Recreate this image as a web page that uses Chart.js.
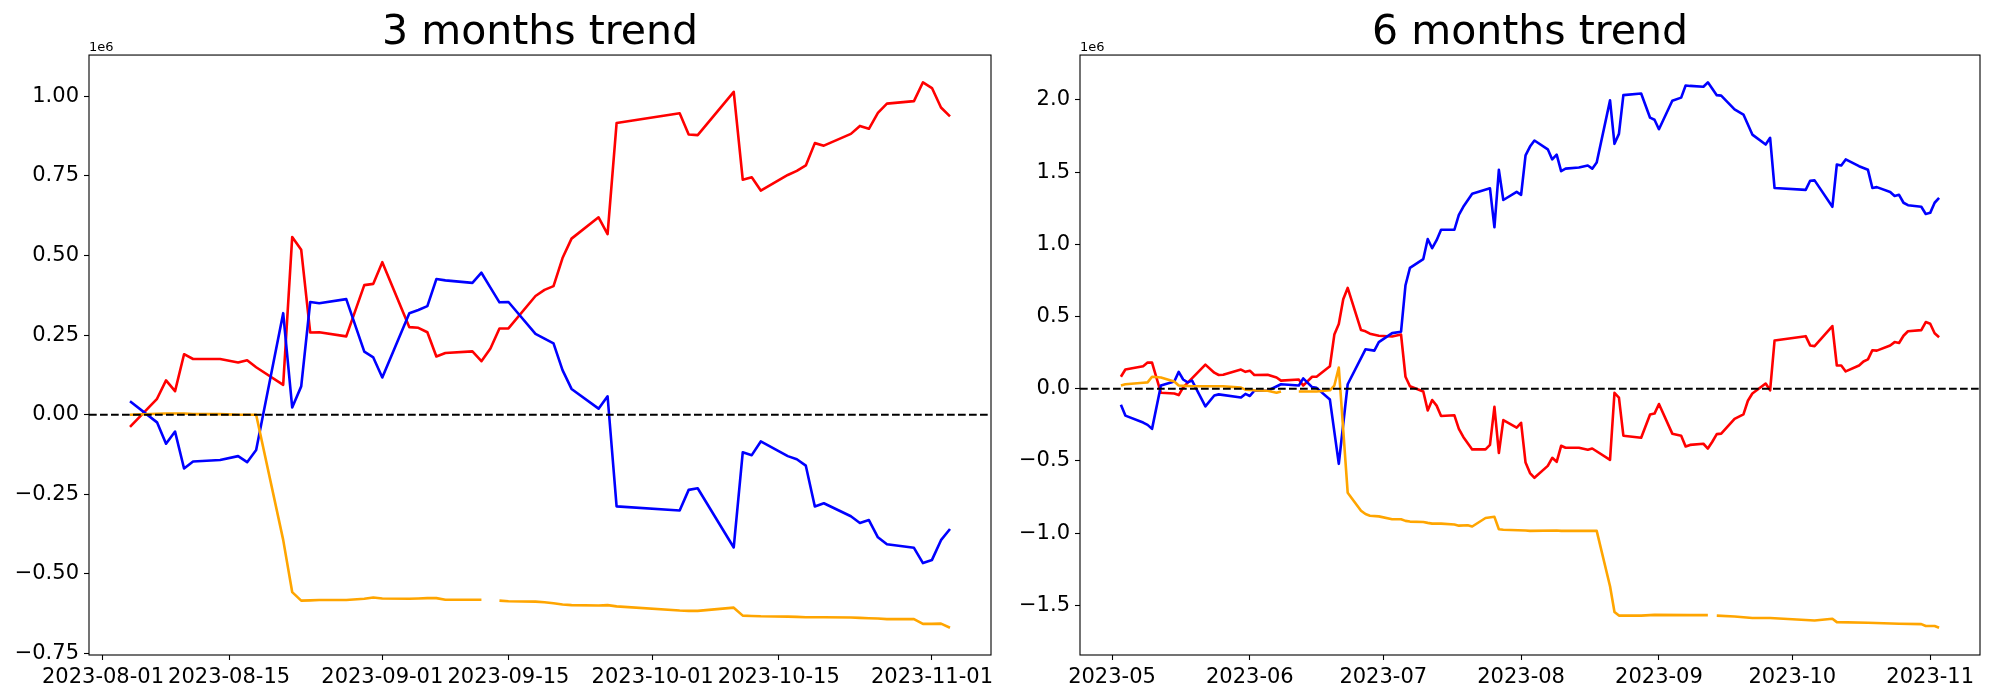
<!DOCTYPE html>
<html>
<head>
<meta charset="utf-8">
<title>3 and 6 months trend</title>
<script src="https://cdn.jsdelivr.net/npm/chart.js@4.4.1/dist/chart.umd.min.js"></script>
<style>
  html, body { margin: 0; padding: 0; background: #fff; }
  #wrap { position: relative; width: 2000px; height: 700px; overflow: hidden; }
  canvas { position: absolute; top: 0; }
  #c3 { left: 0; }
  #c6 { left: 1000px; }
</style>
</head>
<body>
<div id="wrap">
  <canvas id="c3" width="1000" height="700"></canvas>
  <canvas id="c6" width="1000" height="700"></canvas>
</div>
<script>
// all values are in units of 1e6 (the "1e6" offset shown above each axis)

// ---------- 3 months trend ----------
const dates3 = [
  '2023-08-04','2023-08-07','2023-08-08','2023-08-09','2023-08-10','2023-08-11','2023-08-14','2023-08-16','2023-08-17',
  '2023-08-18','2023-08-21','2023-08-22','2023-08-23','2023-08-24','2023-08-25','2023-08-28','2023-08-30','2023-08-31',
  '2023-09-01','2023-09-04','2023-09-05','2023-09-06','2023-09-07','2023-09-08','2023-09-11','2023-09-12','2023-09-13',
  '2023-09-14','2023-09-15','2023-09-18','2023-09-19','2023-09-20','2023-09-21','2023-09-22','2023-09-25','2023-09-26','2023-09-27',
  '2023-10-04','2023-10-05','2023-10-06','2023-10-10','2023-10-11','2023-10-12','2023-10-13','2023-10-16','2023-10-17',
  '2023-10-18','2023-10-19','2023-10-20','2023-10-23','2023-10-24','2023-10-25','2023-10-26','2023-10-27','2023-10-30','2023-10-31',
  '2023-11-01','2023-11-02','2023-11-03'
];
const red3 = [
  -0.038, 0.050, 0.108, 0.074, 0.190, 0.175, 0.175, 0.164, 0.171, 0.149, 0.094, 0.558, 0.518, 0.258, 0.259, 0.246, 0.407, 0.411,
  0.479, 0.275, 0.273, 0.259, 0.183, 0.194, 0.199, 0.168, 0.208, 0.271, 0.271, 0.373, 0.392, 0.404, 0.492, 0.553, 0.620, 0.567, 0.916,
  0.947, 0.880, 0.878, 1.014, 0.738, 0.746, 0.704, 0.753, 0.766, 0.783, 0.853, 0.845, 0.882, 0.907, 0.898, 0.948, 0.977, 0.985, 1.044,
  1.026, 0.965, 0.937
];
const blue3 = [
  0.042, -0.024, -0.091, -0.053, -0.169, -0.147, -0.142, -0.130, -0.149, -0.111, 0.319, 0.023, 0.089, 0.354, 0.350, 0.363, 0.198, 0.180,
  0.117, 0.319, 0.329, 0.341, 0.426, 0.422, 0.414, 0.446, 0.399, 0.353, 0.354, 0.254, 0.239, 0.224, 0.140, 0.081, 0.019, 0.058, -0.288,
  -0.301, -0.236, -0.231, -0.417, -0.118, -0.127, -0.084, -0.130, -0.140, -0.160, -0.288, -0.278, -0.319, -0.340, -0.331, -0.385, -0.407, -0.418, -0.466,
  -0.456, -0.394, -0.359
];
const orange3 = [
  0.000, 0.003, 0.004, 0.004, 0.004, 0.002, 0.002, 0.000, 0.000, 0.000, -0.393, -0.557, -0.584, -0.583, -0.582, -0.582, -0.578, -0.574,
  -0.577, -0.578, -0.577, -0.576, -0.576, -0.581, -0.581, -0.581, null, -0.584, -0.586, -0.587, -0.589, -0.592, -0.596, -0.598, -0.599, -0.598, -0.602,
  -0.615, -0.616, -0.616, -0.606, -0.631, -0.632, -0.633, -0.634, -0.635, -0.636, -0.636, -0.636, -0.637, -0.638, -0.639, -0.640, -0.642, -0.642, -0.657,
  -0.657, -0.656, -0.669
];
const xTicks3 = ['2023-08-01','2023-08-15','2023-09-01','2023-09-15','2023-10-01','2023-10-15','2023-11-01'];
const xTickLabels3 = ['2023-08-01','2023-08-15','2023-09-01','2023-09-15','2023-10-01','2023-10-15','2023-11-01'];
const yTicks3 = [-0.75, -0.50, -0.25, 0.00, 0.25, 0.50, 0.75, 1.00];

// ---------- 6 months trend ----------
const redDates6 = [
  '2023-05-03','2023-05-04','2023-05-08','2023-05-09','2023-05-10','2023-05-12','2023-05-15','2023-05-16','2023-05-17','2023-05-22',
  '2023-05-24','2023-05-25','2023-05-26','2023-05-30','2023-05-31',
  '2023-06-01','2023-06-02','2023-06-05','2023-06-07','2023-06-08','2023-06-12','2023-06-13','2023-06-15','2023-06-16','2023-06-19',
  '2023-06-20','2023-06-21','2023-06-22','2023-06-23','2023-06-26','2023-06-27','2023-06-28','2023-06-30',
  '2023-07-03','2023-07-05','2023-07-06','2023-07-07','2023-07-10','2023-07-11','2023-07-12','2023-07-13','2023-07-14','2023-07-17',
  '2023-07-18','2023-07-19','2023-07-21','2023-07-24','2023-07-25','2023-07-26','2023-07-27','2023-07-28','2023-07-31',
  '2023-08-01','2023-08-02','2023-08-03','2023-08-04','2023-08-07','2023-08-08','2023-08-09','2023-08-10','2023-08-11','2023-08-14',
  '2023-08-16','2023-08-17','2023-08-21','2023-08-22','2023-08-23','2023-08-24','2023-08-28','2023-08-30','2023-08-31',
  '2023-09-01','2023-09-04','2023-09-06','2023-09-07','2023-09-08','2023-09-11','2023-09-12','2023-09-13','2023-09-14','2023-09-15',
  '2023-09-18','2023-09-20','2023-09-21','2023-09-22','2023-09-25','2023-09-26','2023-09-27',
  '2023-10-04','2023-10-05','2023-10-06','2023-10-10','2023-10-11','2023-10-12','2023-10-13','2023-10-16','2023-10-17','2023-10-18',
  '2023-10-19','2023-10-20','2023-10-23','2023-10-24','2023-10-25','2023-10-26','2023-10-27','2023-10-30','2023-10-31',
  '2023-11-01','2023-11-02','2023-11-03'
];
const red6 = [
  0.083, 0.133, 0.156, 0.181, 0.181, -0.028, -0.033, -0.044, 0.010, 0.167,
  0.111, 0.095, 0.097, 0.133, 0.117,
  0.125, 0.095, 0.097, 0.078, 0.056, 0.064, 0.022, 0.083, 0.083, 0.156,
  0.375, 0.448, 0.620, 0.698, 0.406, 0.398, 0.381, 0.367,
  0.362, 0.375, 0.083, 0.017, -0.019, -0.150, -0.078, -0.117, -0.189, -0.184,
  -0.278, -0.334, -0.420, -0.420, -0.389, -0.125, -0.445, -0.217, -0.270,
  -0.236, -0.511, -0.584, -0.617, -0.534, -0.478, -0.506, -0.395, -0.409, -0.409,
  -0.423, -0.414, -0.492, -0.028, -0.061, -0.325, -0.339, -0.178, -0.172,
  -0.106, -0.311, -0.325, -0.400, -0.389, -0.381, -0.414, -0.367, -0.314, -0.311,
  -0.209, -0.178, -0.083, -0.033, 0.036, -0.011, 0.334,
  0.364, 0.300, 0.295, 0.434, 0.161, 0.161, 0.120, 0.161, 0.189, 0.203,
  0.267, 0.264, 0.300, 0.323, 0.317, 0.367, 0.398, 0.406, 0.462,
  0.450, 0.384, 0.356
];
const blueDates6 = [
  '2023-05-03','2023-05-04','2023-05-08','2023-05-09','2023-05-10','2023-05-12','2023-05-15','2023-05-16','2023-05-17','2023-05-18',
  '2023-05-19','2023-05-22','2023-05-24','2023-05-25','2023-05-30','2023-05-31',
  '2023-06-01','2023-06-02','2023-06-05','2023-06-08','2023-06-12','2023-06-13','2023-06-15','2023-06-16','2023-06-19','2023-06-21',
  '2023-06-23','2023-06-27','2023-06-29','2023-06-30',
  '2023-07-03','2023-07-05','2023-07-06','2023-07-07','2023-07-10','2023-07-11','2023-07-12','2023-07-13','2023-07-14','2023-07-17',
  '2023-07-18','2023-07-19','2023-07-21','2023-07-25','2023-07-26','2023-07-27','2023-07-28','2023-07-31',
  '2023-08-01','2023-08-02','2023-08-03','2023-08-04','2023-08-07','2023-08-08','2023-08-09','2023-08-10','2023-08-11','2023-08-14',
  '2023-08-16','2023-08-17','2023-08-18','2023-08-21','2023-08-22','2023-08-23','2023-08-24','2023-08-28','2023-08-30','2023-08-31',
  '2023-09-01','2023-09-04','2023-09-06','2023-09-07','2023-09-08','2023-09-11','2023-09-12','2023-09-14','2023-09-15','2023-09-18',
  '2023-09-20','2023-09-22','2023-09-25','2023-09-26','2023-09-27',
  '2023-10-04','2023-10-05','2023-10-06','2023-10-10','2023-10-11','2023-10-12','2023-10-13','2023-10-16','2023-10-18','2023-10-19',
  '2023-10-20','2023-10-23','2023-10-24','2023-10-25','2023-10-26','2023-10-27','2023-10-30','2023-10-31',
  '2023-11-01','2023-11-02','2023-11-03'
];
const blue6 = [
  -0.111, -0.186, -0.234, -0.250, -0.278, 0.022, 0.050, 0.117, 0.064, 0.044,
  0.056, -0.122, -0.047, -0.039, -0.061, -0.036,
  -0.050, -0.014, -0.014, 0.031, 0.022, 0.072, 0.011, 0.006, -0.075, -0.520,
  0.031, 0.273, 0.264, 0.323,
  0.385, 0.395, 0.717, 0.837, 0.898, 1.037, 0.973, 1.029, 1.101, 1.101,
  1.204, 1.260, 1.351, 1.388, 1.118, 1.516, 1.307, 1.363,
  1.343, 1.616, 1.677, 1.719, 1.658, 1.588, 1.621, 1.507, 1.524, 1.532,
  1.546, 1.524, 1.566, 1.997, 1.696, 1.765, 2.033, 2.044, 1.877, 1.863,
  1.797, 1.994, 2.016, 2.100, 2.097, 2.091, 2.122, 2.033, 2.030, 1.935,
  1.899, 1.760, 1.691, 1.738, 1.390,
  1.377, 1.440, 1.443, 1.260, 1.552, 1.546, 1.588, 1.541, 1.516, 1.390,
  1.396, 1.363, 1.335, 1.343, 1.288, 1.271, 1.260, 1.210,
  1.218, 1.288, 1.321
];
const orangeDates6 = [
  '2023-05-03','2023-05-04','2023-05-08','2023-05-09','2023-05-10','2023-05-12','2023-05-15','2023-05-16','2023-05-19','2023-05-22',
  '2023-05-26','2023-05-30','2023-05-31',
  '2023-06-02','2023-06-05','2023-06-07','2023-06-08','2023-06-09','2023-06-12','2023-06-16','2023-06-19','2023-06-20','2023-06-21',
  '2023-06-23','2023-06-26','2023-06-27','2023-06-28','2023-06-30',
  '2023-07-03','2023-07-05','2023-07-06','2023-07-07','2023-07-10','2023-07-11','2023-07-12','2023-07-14','2023-07-17','2023-07-18',
  '2023-07-20','2023-07-21','2023-07-24','2023-07-26','2023-07-27','2023-07-28',
  '2023-08-02','2023-08-03','2023-08-09','2023-08-10','2023-08-18','2023-08-21','2023-08-22','2023-08-23','2023-08-28','2023-08-31',
  '2023-09-08','2023-09-11','2023-09-12','2023-09-13','2023-09-14','2023-09-18','2023-09-22','2023-09-26',
  '2023-10-04','2023-10-06','2023-10-10','2023-10-11','2023-10-18','2023-10-25','2023-10-30','2023-10-31',
  '2023-11-02','2023-11-03'
];
const orange6 = [
  0.022, 0.031, 0.042, 0.044, 0.083, 0.078, 0.050, 0.022, 0.017, 0.017,
  0.017, 0.008, -0.006,
  -0.011, -0.014, -0.028, -0.019, null, -0.019, -0.019, -0.011, 0.022, 0.147,
  -0.720, -0.845, -0.868, -0.879, -0.884,
  -0.904, -0.904, -0.915, -0.920, -0.923, -0.929, -0.934, -0.934, -0.940, -0.948,
  -0.945, -0.954, -0.895, -0.887, -0.973, -0.976,
  -0.982, -0.984, -0.982, -0.984, -0.984, -1.368, -1.546, -1.571, -1.571, -1.566,
  -1.568, -1.568, -1.568, null, -1.571, -1.577, -1.588, -1.588,
  -1.602, -1.605, -1.593, -1.616, -1.621, -1.627, -1.630, -1.643,
  -1.643, -1.655
];
const xTicks6 = ['2023-05-01','2023-06-01','2023-07-01','2023-08-01','2023-09-01','2023-10-01','2023-11-01'];
const xTickLabels6 = ['2023-05','2023-06','2023-07','2023-08','2023-09','2023-10','2023-11'];
const yTicks6 = [-1.5, -1.0, -0.5, 0.0, 0.5, 1.0, 1.5, 2.0];

const FONT = 'DejaVu Sans';
const SERIES_WIDTH = 2.6;
Chart.defaults.font.family = FONT;
Chart.defaults.color = '#000';

// date string -> day number (linear x axis in days)
function toDay(s) {
    return Date.UTC(+s.slice(0, 4), +s.slice(5, 7) - 1, +s.slice(8, 10)) / 864e5;
}

function points(dates, vals) {
    return dates.map((d, i) => ({ x: toDay(d), y: vals[i] }));
}

// matplotlib style 5% margins
function padded(lo, hi) {
    const m = (hi - lo) * 0.05;
    return [lo - m, hi + m];
}

function fmtTick(v, digits) {
    const s = Math.abs(v).toFixed(digits);
    return v < -1e-9 ? '\u2212' + s : s;
}

// full box around the plot + "1e6" offset text
const framePlugin = {
    id: 'frame',
    afterDatasetsDraw(chart, args, opts) {
        const { ctx, chartArea: a } = chart;
        ctx.save();
        ctx.strokeStyle = '#000';
        ctx.lineWidth = 1.1;
        ctx.strokeRect(a.left, a.top, a.right - a.left, a.bottom - a.top);
        ctx.fillStyle = '#000';
        ctx.font = '13px "' + FONT + '"';
        ctx.textAlign = 'left';
        ctx.textBaseline = 'alphabetic';
        ctx.fillText(opts.offsetText, a.left, a.top - 4.5);
        ctx.restore();
    }
};

function makeChart(id, o) {
    const allX = [], allY = [];
    o.series.forEach(s => {
        s.dates.forEach(d => allX.push(toDay(d)));
        s.values.forEach(v => { if (v !== null) allY.push(v); });
    });
    const [xMin, xMax] = padded(Math.min(...allX), Math.max(...allX));
    const [yMin, yMax] = padded(Math.min(...allY), Math.max(...allY));

    const datasets = [{
        label: 'zero',
        data: [{ x: xMin, y: 0 }, { x: xMax, y: 0 }],
        borderColor: '#000',
        borderWidth: 2.08,
        borderDash: [7.7, 3.3],
        order: 0
    }].concat(o.series.map((s, i) => ({
        label: s.name,
        data: points(s.dates, s.values),
        borderColor: s.color,
        borderWidth: SERIES_WIDTH,
        order: o.series.length - i
    })));

    const tickGrid = {
        display: true,
        drawOnChartArea: false,
        drawTicks: true,
        tickLength: 5,
        tickWidth: 1.1,
        tickColor: '#000'
    };

    return new Chart(document.getElementById(id), {
        type: 'line',
        data: { datasets },
        options: {
            responsive: false,
            animation: false,
            devicePixelRatio: 1,
            events: [],
            elements: {
                point: { radius: 0, hoverRadius: 0 },
                line: { tension: 0, borderJoinStyle: 'round', borderCapStyle: 'butt' }
            },
            layout: { padding: { left: 0, right: o.rightPad, top: 0, bottom: 0 } },
            plugins: {
                legend: { display: false },
                tooltip: { enabled: false },
                title: {
                    display: true,
                    text: o.title,
                    fullSize: false,
                    color: '#000',
                    font: { family: FONT, size: 41, weight: 'normal', lineHeight: 1.04 },
                    padding: { top: 12.4, bottom: 0 }
                },
                frame: { offsetText: '1e6' }
            },
            scales: {
                x: {
                    type: 'linear',
                    min: xMin,
                    max: xMax,
                    bounds: 'data',
                    grid: tickGrid,
                    border: { display: false },
                    afterBuildTicks: sc => { sc.ticks = o.xTicks.map(d => ({ value: toDay(d) })); },
                    afterFit: sc => { sc.height = 45; },
                    ticks: {
                        autoSkip: false,
                        maxRotation: 0,
                        minRotation: 0,
                        padding: 5,
                        color: '#000',
                        font: { size: 21 },
                        callback: (v, i) => o.xTickLabels[i]
                    }
                },
                y: {
                    type: 'linear',
                    min: yMin,
                    max: yMax,
                    bounds: 'data',
                    grid: tickGrid,
                    border: { display: false },
                    afterBuildTicks: sc => { sc.ticks = o.yTicks.map(v => ({ value: v })); },
                    afterFit: sc => { sc.width = o.yAxisWidth; },
                    ticks: {
                        autoSkip: false,
                        padding: 5,
                        color: '#000',
                        font: { size: 21 },
                        callback: v => fmtTick(v, o.yDigits)
                    }
                }
            }
        },
        plugins: [framePlugin]
    });
}

makeChart('c3', {
    title: '3 months trend',
    series: [
        { name: 'red', dates: dates3, values: red3, color: '#ff0000' },
        { name: 'blue', dates: dates3, values: blue3, color: '#0000ff' },
        { name: 'orange', dates: dates3, values: orange3, color: '#ffa500' }
    ],
    xTicks: xTicks3,
    xTickLabels: xTickLabels3,
    yTicks: yTicks3,
    yDigits: 2,
    yAxisWidth: 89,
    rightPad: 9
});

makeChart('c6', {
    title: '6 months trend',
    series: [
        { name: 'red', dates: redDates6, values: red6, color: '#ff0000' },
        { name: 'blue', dates: blueDates6, values: blue6, color: '#0000ff' },
        { name: 'orange', dates: orangeDates6, values: orange6, color: '#ffa500' }
    ],
    xTicks: xTicks6,
    xTickLabels: xTickLabels6,
    yTicks: yTicks6,
    yDigits: 1,
    yAxisWidth: 80,
    rightPad: 20
});
</script>
</body>
</html>
